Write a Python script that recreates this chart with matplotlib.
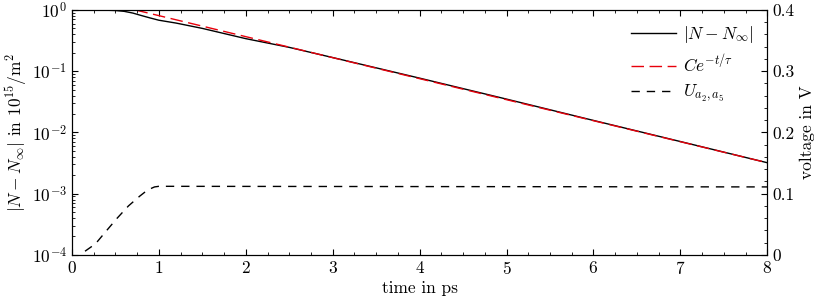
import matplotlib
matplotlib.use('Agg')
import matplotlib.pyplot as plt
from matplotlib.ticker import MultipleLocator, FixedLocator, LogLocator

plt.rcParams['font.family'] = 'serif'
plt.rcParams['font.serif'] = ['cmr10', 'DejaVu Serif']
plt.rcParams['mathtext.fontset'] = 'cm'
plt.rcParams['axes.formatter.use_mathtext'] = True
plt.rcParams['font.size'] = 12.5

# carrier density difference |N - N_inf| (10^15 / m^2)
t_density = [0.0, 0.3, 0.5, 0.6, 0.7, 0.8, 0.9, 1.0, 1.2, 1.5, 2.0, 2.5,
             3.0, 4.0, 5.0, 6.0, 7.0, 8.0]
density = [1.0, 1.0, 0.98, 0.95, 0.89, 0.81, 0.74, 0.68, 0.61, 0.50, 0.34,
           0.245, 0.167, 0.077, 0.035, 0.0157, 0.0071, 0.0032]

# exponential fit C exp(-t/tau), straight on log axis
t_fit = [0.73, 8.0]
fit = [1.0, 0.0032]

# applied voltage U_{a2,a5} (V)
t_volt = [0.15, 0.27, 0.40, 0.52, 0.65, 0.78, 0.87, 0.95, 1.0, 8.0]
volt = [0.006, 0.018, 0.040, 0.060, 0.080, 0.096, 0.106, 0.111, 0.112, 0.111]

fig = plt.figure(figsize=(8.18, 3.02), dpi=100)
ax = fig.add_axes([0.088, 0.156, 0.850, 0.811])
ax2 = ax.twinx()

l1, = ax.plot(t_density, density, color='black', lw=1.0, label=r'$|N-N_\infty|$')
l2, = ax.plot(t_fit, fit, color='#e8000b', lw=1.0, dashes=(9, 4),
              label=r'$Ce^{-t/\tau}$')
l3, = ax2.plot(t_volt, volt, color='black', lw=1.0, dashes=(6, 5),
               label=r'$U_{a_2,a_5}$')

ax.set_yscale('log')
ax.set_ylim(1e-4, 1)
ax.set_xlim(0, 8)
ax2.set_ylim(0, 0.4)

ax.xaxis.set_major_locator(MultipleLocator(1))
ax.xaxis.set_minor_locator(MultipleLocator(0.25))
ax.yaxis.set_major_locator(LogLocator(base=10, numticks=10))
ax.yaxis.set_minor_locator(LogLocator(base=10, subs=range(2, 10), numticks=10))
ax2.yaxis.set_major_locator(FixedLocator([0, 0.1, 0.2, 0.3, 0.4]))
ax2.set_yticklabels(['0', '0.1', '0.2', '0.3', '0.4'])
ax2.yaxis.set_minor_locator(MultipleLocator(0.02))

ax.tick_params(which='both', direction='in', top=True, right=False)
ax.tick_params(which='major', length=4.5)
ax.tick_params(which='minor', length=2.5)
ax2.tick_params(which='both', direction='in')
ax2.tick_params(which='major', length=4.5)
ax2.tick_params(which='minor', length=2.5)

ax.set_xlabel('time in ps', labelpad=3)
ax.set_ylabel(r'$|N-N_\infty|$ in $10^{15}/\mathrm{m}^2$', labelpad=2)
ax2.set_ylabel('voltage in V', labelpad=4)

ax2.legend(handles=[l1, l2, l3], loc='upper right', frameon=False,
           handlelength=2.6, handletextpad=0.4, borderaxespad=0.4,
           labelspacing=0.45)

fig.savefig('out.png', dpi=100)
